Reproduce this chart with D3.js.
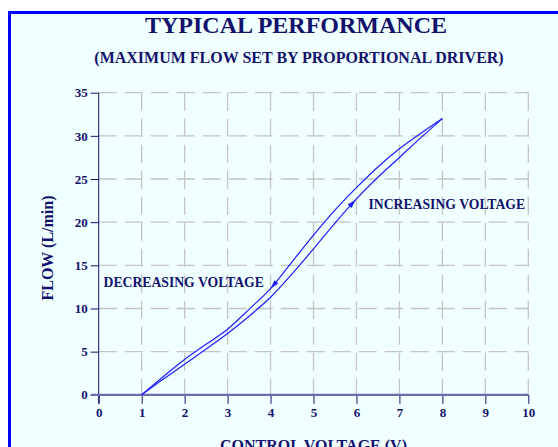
<!DOCTYPE html>
<html>
<head>
<meta charset="utf-8">
<script src="https://cdn.jsdelivr.net/npm/d3@7"></script>
<style>
  body { margin: 0; background: #fff; }
  svg { display: block; }
</style>
</head>
<body>
<div id="chart"></div>
<script>
// values
const voltage = [1, 1.5, 2, 2.5, 3, 3.5, 4, 4.5, 5, 5.5, 6, 6.5, 7, 7.5, 8];
const flowIncreasing = [0, 1.8, 3.55, 5.3, 7.1, 9.1, 11.3, 14.0, 16.9, 19.9, 22.7, 25.2, 27.5, 29.8, 32];
const flowDecreasing = [0, 2.1, 4.1, 5.85, 7.6, 9.9, 12.3, 15.4, 18.5, 21.4, 24.0, 26.4, 28.5, 30.3, 32];
const xTicks = [0, 1, 2, 3, 4, 5, 6, 7, 8, 9, 10];
const yTicks = [0, 5, 10, 15, 20, 25, 30, 35];

const width = 558, height = 447;
const navy = "#12126c";
const font = "'Liberation Serif', 'Times New Roman', serif";

const svg = d3.select("#chart").append("svg")
    .attr("width", width)
    .attr("height", height)
    .attr("viewBox", [0, 0, width, height]);

// panel with blue frame
svg.append("rect")
    .attr("x", 9.5).attr("y", 12.5)
    .attr("width", 570).attr("height", 460)
    .attr("fill", "#f0ffff")
    .attr("stroke", "#0000ff")
    .attr("stroke-width", 3);

const x = d3.scaleLinear().domain([0, 10]).range([98.7, 528.3]);
const y = d3.scaleLinear().domain([0, 35]).range([394.8, 92.7]);

// dashed grid
const grid = svg.append("g")
    .attr("stroke", "#c4c4c4")
    .attr("stroke-width", 1.3)
    .attr("stroke-dasharray", "18,8");

grid.selectAll("line.v")
    .data(xTicks.filter(d => d > 0))
    .join("line")
    .attr("x1", d => x(d)).attr("x2", d => x(d))
    .attr("y1", y(35)).attr("y2", y(0));

grid.selectAll("line.h")
    .data(yTicks.filter(d => d > 0))
    .join("line")
    .attr("x1", x(0)).attr("x2", x(10))
    .attr("y1", d => y(d)).attr("y2", d => y(d));

// y axis
const yAxis = svg.append("g")
    .attr("transform", `translate(${x(0)},0)`)
    .call(d3.axisLeft(y).tickValues(yTicks).tickSize(8).tickSizeOuter(0).tickPadding(3));
yAxis.select(".domain").remove();
yAxis.append("line")
    .attr("y1", y(35)).attr("y2", y(0) + 9)
    .attr("stroke", navy);

// x axis
const xAxis = svg.append("g")
    .attr("transform", `translate(0,${y(0)})`)
    .call(d3.axisBottom(x).tickValues(xTicks).tickSize(9).tickSizeOuter(0).tickPadding(4));
xAxis.select(".domain").remove();
xAxis.append("line")
    .attr("x1", x(0) - 8).attr("x2", x(10))
    .attr("stroke", "#6c6cac")
    .attr("stroke-width", 2.2);

svg.selectAll(".tick line").attr("stroke", navy);
svg.selectAll(".tick text")
    .attr("fill", navy)
    .attr("font-family", font)
    .attr("font-weight", "bold")
    .attr("font-size", 13);

// curves
const line = d3.line()
    .x(d => x(d[0]))
    .y(d => y(d[1]))
    .curve(d3.curveCatmullRom);

const curves = [
    { values: flowDecreasing, arrowAt: 4.06, dir: -1 },
    { values: flowIncreasing, arrowAt: 5.92, dir: 1 }
];

curves.forEach(c => {
    const path = svg.append("path")
        .datum(voltage.map((v, i) => [v, c.values[i]]))
        .attr("d", line)
        .attr("fill", "none")
        .attr("stroke", "#1e1eff")
        .attr("stroke-width", 1.2);

    // find the point on the path at the arrow's voltage
    const node = path.node();
    const total = node.getTotalLength();
    const target = x(c.arrowAt);
    let lo = 0, hi = total;
    for (let k = 0; k < 40; k++) {
        const mid = (lo + hi) / 2;
        if (node.getPointAtLength(mid).x < target) lo = mid; else hi = mid;
    }
    const p = node.getPointAtLength(lo);
    const q = node.getPointAtLength(Math.min(total, lo + 2));
    let angle = Math.atan2(q.y - p.y, q.x - p.x) * 180 / Math.PI;
    if (c.dir < 0) angle += 180;

    svg.append("path")
        .attr("d", "M4,0 L-5,-2.6 L-5,2.6 Z")
        .attr("fill", "#1e1eff")
        .attr("transform", `translate(${p.x},${p.y}) rotate(${angle})`);
});

// texts
const addText = (t, tx, ty, size, anchor) => svg.append("text")
    .attr("x", tx).attr("y", ty)
    .attr("text-anchor", anchor)
    .attr("fill", navy)
    .attr("font-family", font)
    .attr("font-weight", "bold")
    .attr("font-size", size)
    .text(t);

addText("TYPICAL PERFORMANCE", 296, 33, 24, "middle");
addText("(MAXIMUM FLOW SET BY PROPORTIONAL DRIVER)", 299, 63, 16, "middle");
addText("DECREASING VOLTAGE", 103.5, 286.7, 13.7, "start");
addText("INCREASING VOLTAGE", 368.5, 209, 13.7, "start");
addText("CONTROL VOLTAGE (V)", 313.5, 450.5, 16, "middle");
addText("FLOW (L/min)", 0, 0, 16, "middle")
    .attr("transform", "translate(52.5,248) rotate(-90)");
</script>
</body>
</html>
